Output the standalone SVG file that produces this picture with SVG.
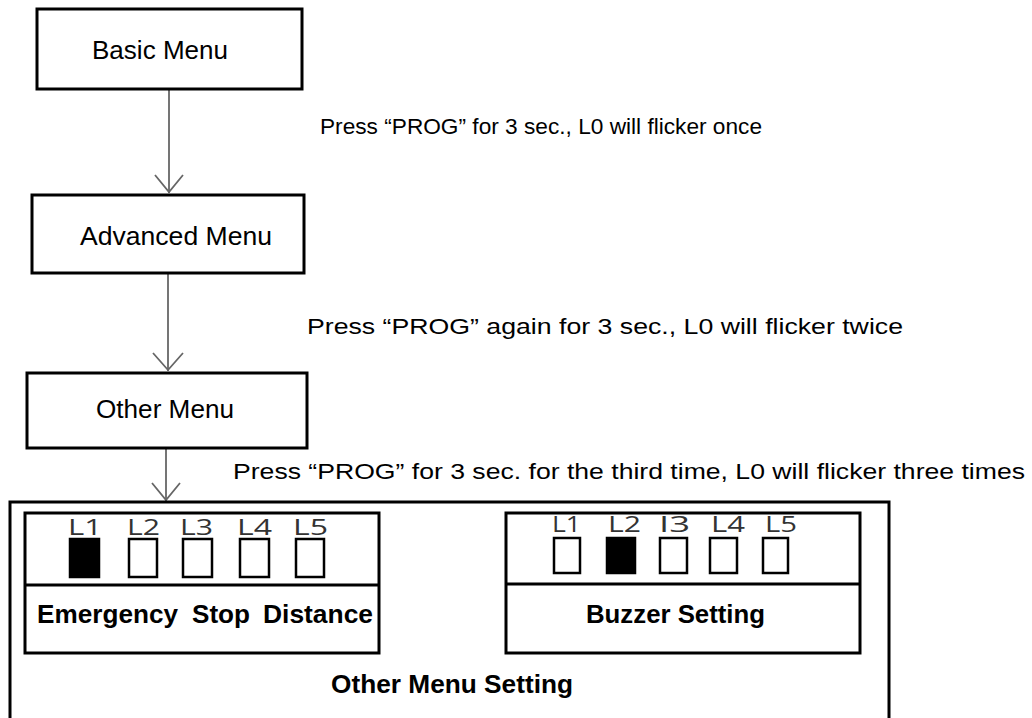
<svg xmlns="http://www.w3.org/2000/svg" width="1032" height="718" viewBox="0 0 1032 718">
<style>
.box{fill:#fff;stroke:#000;stroke-width:3}
.inner{fill:none;stroke:#000;stroke-width:3}
.led{fill:#fff;stroke:#000;stroke-width:2.5}
.on{fill:#000;stroke:#000;stroke-width:2.5}
.t{font-family:"Liberation Sans",Arial,sans-serif;fill:#000}
.menu{font-size:26px}
.press{font-size:22.5px}
.b{font-size:25px;font-weight:bold}
.lbl{font-family:"Open Sans","Noto Sans",sans-serif;font-size:21px;fill:#333}
.conn{stroke:#666;stroke-width:1.8;fill:none}
</style>
<rect width="1032" height="718" fill="#fff"/>
<g id="connectors">
<line class="conn" x1="169" y1="89" x2="169" y2="193"/>
<polyline class="conn" points="155,175 169,192 183,175"/>
<line class="conn" x1="168" y1="273" x2="168" y2="371"/>
<polyline class="conn" points="153,353 168,370 183,353"/>
<line class="conn" x1="166" y1="448" x2="166" y2="501"/>
<polyline class="conn" points="152,483 166,500 180,483"/>
</g>
<g id="basic-menu">
<rect class="box" x="37" y="9" width="265" height="80"/>
<text class="t menu" x="92" y="59" textLength="136" lengthAdjust="spacingAndGlyphs">Basic Menu</text>
</g>
<g id="label-1">
<text class="t press" x="320" y="134" textLength="442" lengthAdjust="spacingAndGlyphs">Press “PROG” for 3 sec., L0 will flicker once</text>
</g>
<g id="advanced-menu">
<rect class="box" x="32" y="195" width="272" height="78"/>
<text class="t menu" x="80" y="245" textLength="192" lengthAdjust="spacingAndGlyphs">Advanced Menu</text>
</g>
<g id="label-2">
<text class="t press" x="307" y="334" textLength="596" lengthAdjust="spacingAndGlyphs">Press “PROG” again for 3 sec., L0 will flicker twice</text>
</g>
<g id="other-menu">
<rect class="box" x="27" y="373" width="280" height="75"/>
<text class="t menu" x="96" y="418" textLength="138" lengthAdjust="spacingAndGlyphs">Other Menu</text>
</g>
<g id="label-3">
<text class="t press" x="233" y="479" textLength="792" lengthAdjust="spacingAndGlyphs">Press “PROG” for 3 sec. for the third time, L0 will flicker three times</text>
</g>
<g id="other-menu-setting">
<rect class="box" x="10" y="502" width="879" height="230"/>
<text class="t b" x="331" y="693" textLength="242" lengthAdjust="spacingAndGlyphs" style="font-size:26px">Other Menu Setting</text>
</g>
<g id="emergency-stop-distance">
<rect class="inner" x="25" y="513" width="354" height="140"/>
<line class="inner" x1="25" y1="585" x2="379" y2="585"/>
<text class="lbl" x="68" y="535" textLength="34" lengthAdjust="spacingAndGlyphs">L1</text>
<text class="lbl" x="127" y="535" textLength="33" lengthAdjust="spacingAndGlyphs">L2</text>
<text class="lbl" x="180" y="535" textLength="33" lengthAdjust="spacingAndGlyphs">L3</text>
<text class="lbl" x="237" y="535" textLength="35" lengthAdjust="spacingAndGlyphs">L4</text>
<text class="lbl" x="293" y="535" textLength="35" lengthAdjust="spacingAndGlyphs">L5</text>
<rect class="on" x="70" y="539" width="29" height="38"/>
<rect class="led" x="129" y="539" width="28" height="38"/>
<rect class="led" x="183" y="539" width="29" height="38"/>
<rect class="led" x="240" y="539" width="29" height="38"/>
<rect class="led" x="296" y="539" width="28" height="38"/>
<text class="t b" y="623"><tspan x="37" textLength="141" lengthAdjust="spacingAndGlyphs">Emergency</tspan> <tspan x="192" textLength="58" lengthAdjust="spacingAndGlyphs">Stop</tspan> <tspan x="263" textLength="110" lengthAdjust="spacingAndGlyphs">Distance</tspan></text>
</g>
<g id="buzzer-setting">
<rect class="inner" x="506" y="513" width="354" height="140"/>
<line class="inner" x1="506" y1="584" x2="860" y2="584"/>
<text class="lbl" x="552" y="532" textLength="29" lengthAdjust="spacingAndGlyphs">L1</text>
<text class="lbl" x="608" y="532" textLength="33" lengthAdjust="spacingAndGlyphs">L2</text>
<text class="lbl" x="659" y="532" textLength="31" lengthAdjust="spacingAndGlyphs">I3</text>
<text class="lbl" x="711" y="532" textLength="34" lengthAdjust="spacingAndGlyphs">L4</text>
<text class="lbl" x="765" y="532" textLength="32" lengthAdjust="spacingAndGlyphs">L5</text>
<rect class="led" x="554" y="538" width="26" height="35"/>
<rect class="on" x="607" y="538" width="28" height="35"/>
<rect class="led" x="660" y="538" width="27" height="35"/>
<rect class="led" x="710" y="538" width="27" height="35"/>
<rect class="led" x="763" y="538" width="25" height="35"/>
<text class="t b" x="586" y="623" textLength="179" lengthAdjust="spacingAndGlyphs">Buzzer Setting</text>
</g>
</svg>
